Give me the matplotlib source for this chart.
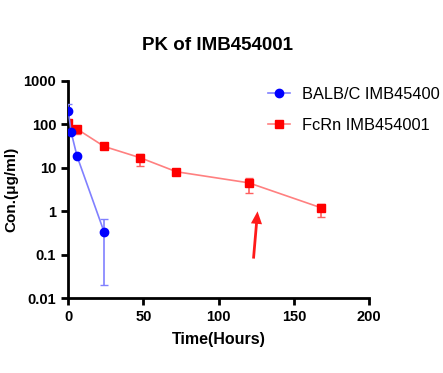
# PK curves, log scale, GraphPad-like styling
import numpy as np
import matplotlib.pyplot as plt
from matplotlib.ticker import FixedLocator, FixedFormatter, NullLocator

plt.rcParams['font.family'] = ['Liberation Sans', 'DejaVu Sans']

# BALB/C
t_balb = [0.25, 2, 6, 24]
c_balb = [205, 68, 18.5, 0.33]
err_balb_lo = [0, 0, 0, 0.31]
err_balb_hi = [85, 0, 0, 0.32]

# FcRn
t_fcrn = [0.25, 6, 24, 48, 72, 120, 168]
c_fcrn = [105, 78, 31, 17, 8.1, 4.5, 1.2]
err_fcrn_lo = [15, 18, 0, 6, 0, 1.9, 0.48]
err_fcrn_hi = [15, 0, 0, 4, 0, 1.2, 0.3]

yticks = [0.01, 0.1, 1, 10, 100, 1000]
ylabels = ["0.01", "0.1", "1", "10", "100", "1000"]
xticks = [0, 50, 100, 150, 200]

# hand-drawn red arrow (data coords)
arrow_tail = (123, 0.07)
arrow_head = (126, 1.15)

fig = plt.figure(figsize=(4.43, 3.73), dpi=100)
ax = fig.add_axes([0.1535, 0.201, 0.68, 0.582])

ax.errorbar(t_balb, c_balb, yerr=[err_balb_lo, err_balb_hi], color='#8080ff',
            ecolor='#8080ff', elinewidth=1.2, capsize=3, lw=1.2, marker='o',
            mfc='#0000ff', mec='#0000ff', ms=6, label='BALB/C IMB45400', zorder=3)
ax.errorbar(t_fcrn, c_fcrn, yerr=[err_fcrn_lo, err_fcrn_hi], color='#ff8080',
            ecolor='#ff6060', elinewidth=1.2, capsize=3, lw=1.2, marker='s',
            mfc='#ff0000', mec='#ff0000', ms=6, label='FcRn IMB454001', zorder=2)

ax.set_yscale('log')
ax.set_ylim(0.01, 1000)
ax.set_xlim(0, 200)
ax.yaxis.set_major_locator(FixedLocator(yticks))
ax.yaxis.set_major_formatter(FixedFormatter(ylabels))
ax.yaxis.set_minor_locator(NullLocator())
ax.set_xticks(xticks)

for s in ['top', 'right']:
    ax.spines[s].set_visible(False)
for s in ['left', 'bottom']:
    ax.spines[s].set_linewidth(2)
ax.tick_params(width=2, length=5, labelsize=10.5)
for lab in ax.get_xticklabels() + ax.get_yticklabels():
    lab.set_fontweight('bold')

fig.text(0.49, 0.877, 'PK of IMB454001', fontsize=13.5, fontweight='bold',
         ha='center', va='center')
ax.set_xlabel('Time(Hours)', fontsize=11.5, fontweight='bold', labelpad=6)
ax.set_ylabel('Con.(μg/ml)', fontsize=11, fontweight='bold', labelpad=4)

ax.annotate('', xy=arrow_head, xytext=arrow_tail,
            arrowprops=dict(arrowstyle='simple,head_length=0.9,head_width=0.8,tail_width=0.2',
                            mutation_scale=10, color='#ff1a1a', lw=0))

# legend without the error bar glyphs
handles, labels = ax.get_legend_handles_labels()
handles = [h[0] for h in handles]
fig.legend(handles, labels, loc='upper left', bbox_to_anchor=(268 / 443, 1 - 87 / 373),
           frameon=False, fontsize=11.8, handlelength=1.35, handletextpad=0.7,
           labelspacing=0.95, borderpad=0, borderaxespad=0)

fig.savefig('out.png', dpi=100)
